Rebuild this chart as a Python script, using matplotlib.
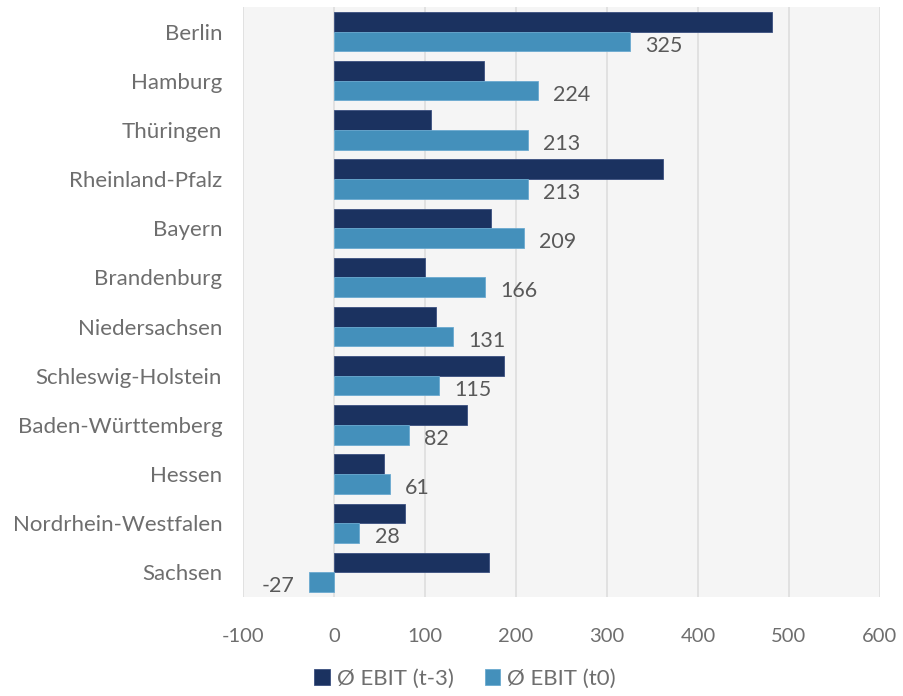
import matplotlib
matplotlib.use("Agg")
import matplotlib.pyplot as plt
import numpy as np

categories = ["Berlin", "Hamburg", "Thüringen", "Rheinland-Pfalz", "Bayern", "Brandenburg",
              "Niedersachsen", "Schleswig-Holstein", "Baden-Württemberg", "Hessen",
              "Nordrhein-Westfalen", "Sachsen"]
ebit_t3 = [481, 165, 107, 361, 172, 100, 112, 187, 146, 55, 78, 170]
ebit_t0 = [325, 224, 213, 213, 209, 166, 131, 115, 82, 61, 28, -27]
series_labels = ["Ø EBIT (t-3)", "Ø EBIT (t0)"]
xticks = [-100, 0, 100, 200, 300, 400, 500, 600]

plt.rcParams['font.family'] = ['Lato', 'DejaVu Sans']

fig = plt.figure(figsize=(9.04, 6.96), dpi=100)
ax = fig.add_axes([243/904, 1 - 597/696, (880 - 243)/904, (597 - 7)/696])
ax.set_facecolor("#f5f5f5")

y = np.arange(len(categories))
h = 0.4
dark = "#1b3260"
light = "#4490bb"
ax.barh(y - h/2, ebit_t3, height=h, color=dark, edgecolor="#3b5080", linewidth=0.6,
        label=series_labels[0], zorder=3)
ax.barh(y + h/2, ebit_t0, height=h, color=light, edgecolor="#6aaad0", linewidth=0.6,
        label=series_labels[1], zorder=3)

for yi, v in zip(y, ebit_t0):
    if v >= 0:
        ax.annotate(f"{v}", xy=(v, yi + h/2), xytext=(11, -3), textcoords="offset points",
                    ha="left", va="center", fontsize=15.5, color="#595959")
    else:
        ax.annotate(f"{v}", xy=(v, yi + h/2), xytext=(-11, -3), textcoords="offset points",
                    ha="right", va="center", fontsize=15.5, color="#595959")

ax.set_xlim(-100, 600)
ax.set_ylim(len(categories) - 0.5, -0.5)
ax.set_xticks(xticks)
ax.set_xticklabels([str(t) for t in xticks], fontsize=14.5, color="#6e6e6e")
ax.set_yticks(y)
ax.set_yticklabels(categories, fontsize=16, color="#6e6e6e")
ax.tick_params(axis="both", length=0)
ax.tick_params(axis="x", pad=22)
ax.tick_params(axis="y", pad=15)
ax.grid(axis="x", color="#dedede", linewidth=1.2, zorder=0)
ax.set_axisbelow(True)
for s in ax.spines.values():
    s.set_visible(False)

leg = fig.legend(loc="center", bbox_to_anchor=(465/904, 1 - 679/696), ncol=2, frameon=False,
                 fontsize=16, handlelength=0.7, handleheight=0.7, handletextpad=0.3,
                 columnspacing=1.4)
for t in leg.get_texts():
    t.set_color("#6e6e6e")

fig.savefig("out.png", dpi=100)
